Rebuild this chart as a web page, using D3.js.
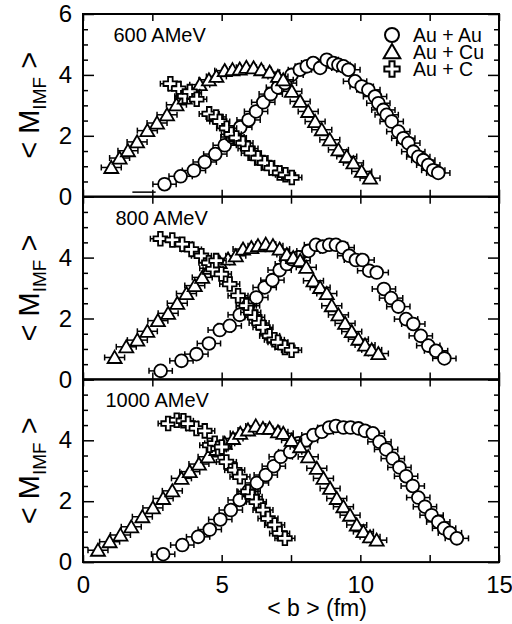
<!DOCTYPE html>
<html>
<head>
<meta charset="utf-8">
<script src="https://cdn.jsdelivr.net/npm/d3@7"></script>
<style>
  body { margin: 0; background: #fff; }
  svg text { font-family: "Liberation Sans", Arial, Helvetica, sans-serif; }
</style>
</head>
<body>
<div id="viz"></div>
<script>
// panel titles and legend
const panelLabels = ["600 AMeV", "800 AMeV", "1000 AMeV"];
const seriesNames = ["Au + Au", "Au + Cu", "Au + C"];
const xTickLabels = [0, 5, 10, 15];
const yTickLabels = [[0, 2, 4, 6], [0, 2, 4], [0, 2, 4]];

// data: [<b> fm, <M_IMF>]
const auAu600 = [[2.94,0.41],[3.52,0.67],[4.00,0.86],[4.39,1.14],[4.77,1.40],[5.11,1.69],[5.39,1.96],
  [5.67,2.28],[5.97,2.52],[6.24,2.80],[6.50,3.10],[6.77,3.37],[7.03,3.59],[7.28,3.73],[7.52,4.00],
  [7.82,4.17],[8.07,4.28],[8.30,4.39],[8.55,4.23],[8.79,4.50],[9.03,4.39],[9.21,4.33],[9.39,4.28],
  [9.57,4.17],[9.81,3.79],[10.05,3.62],[10.29,3.51],[10.53,3.29],[10.65,3.07],[10.83,2.85],[10.95,2.69],
  [11.13,2.47],[11.37,2.14],[11.55,1.92],[11.73,1.76],[11.91,1.48],[12.09,1.31],[12.27,1.20],[12.45,1.04],
  [12.63,0.87],[12.81,0.78]];
const auCu600 = [[1.02,0.96],[1.32,1.27],[1.62,1.51],[1.95,1.80],[2.32,2.17],[2.67,2.42],[3.03,2.69],
  [3.37,3.02],[3.67,3.24],[3.91,3.41],[4.21,3.68],[4.54,3.84],[4.81,3.95],[5.11,4.14],[5.39,4.17],
  [5.65,4.19],[5.89,4.25],[6.15,4.23],[6.43,4.17],[6.73,4.09],[7.03,3.95],[7.22,3.84],[7.53,3.46],
  [7.83,3.13],[8.12,2.80],[8.37,2.47],[8.61,2.20],[8.90,1.87],[9.21,1.54],[9.51,1.32],[9.75,1.11],
  [10.05,0.83],[10.35,0.61]];
const auC600 = [[3.15,3.71],[3.45,3.55],[3.67,3.30],[3.85,3.45],[4.10,3.20],[4.55,2.72],[4.80,2.62],
  [4.93,2.47],[5.18,2.25],[5.35,2.05],[5.53,1.93],[5.77,1.76],[5.95,1.58],[6.07,1.43],[6.31,1.27],
  [6.55,1.11],[6.79,0.94],[7.09,0.78],[7.30,0.72],[7.53,0.63]];
const auAu600Bar = [[2.2,0.15]]; // lone error bar, no marker

const auAu800 = [[2.80,0.28],[3.55,0.61],[4.09,0.83],[4.54,1.18],[4.93,1.62],[5.29,1.76],[5.65,2.12],
  [5.95,2.42],[6.25,2.69],[6.55,3.02],[6.83,3.26],[7.09,3.59],[7.35,3.79],[7.52,3.95],[7.77,4.01],
  [8.13,4.22],[8.40,4.42],[8.64,4.36],[8.88,4.42],[9.12,4.42],[9.36,4.33],[9.60,4.06],[9.84,3.92],
  [10.08,3.92],[10.32,3.57],[10.59,3.51],[10.85,2.97],[11.11,2.67],[11.37,2.39],[11.65,1.98],[11.91,1.82],
  [12.18,1.43],[12.45,1.11],[12.73,0.94],[13.03,0.69]];
const auCu800 = [[1.14,0.72],[1.56,1.07],[1.96,1.29],[2.32,1.58],[2.70,1.93],[3.07,2.17],[3.40,2.50],
  [3.73,2.82],[4.03,3.08],[4.30,3.35],[4.57,3.65],[4.93,3.84],[5.23,3.95],[5.51,4.06],[5.77,4.28],
  [6.07,4.33],[6.31,4.39],[6.59,4.44],[6.85,4.39],[7.09,4.28],[7.35,4.10],[7.58,4.00],[7.83,3.90],
  [8.05,3.68],[8.31,3.24],[8.55,3.02],[8.79,2.82],[8.97,2.42],[9.21,2.12],[9.45,1.84],[9.69,1.57],
  [9.93,1.32],[10.17,1.13],[10.41,0.97],[10.65,0.85]];
const auC800 = [[2.79,4.62],[3.22,4.58],[3.58,4.44],[3.91,4.27],[4.27,4.06],[4.54,3.83],[4.69,3.62],
  [4.80,3.90],[4.99,3.46],[5.29,3.13],[5.59,2.75],[5.89,2.42],[6.05,2.20],[6.19,2.04],[6.35,1.85],
  [6.49,1.71],[6.73,1.43],[6.90,1.30],[7.03,1.22],[7.28,1.05],[7.52,0.96]];

const auAu1000 = [[2.89,0.26],[3.58,0.56],[4.15,0.83],[4.57,1.07],[4.95,1.40],[5.33,1.71],[5.65,2.04],
  [5.97,2.33],[6.27,2.60],[6.59,2.86],[6.88,3.15],[7.13,3.46],[7.47,3.62],[7.77,3.90],[8.04,4.00],
  [8.31,4.17],[8.61,4.28],[8.88,4.42],[9.12,4.47],[9.39,4.42],[9.65,4.42],[9.93,4.39],[10.17,4.31],
  [10.45,4.23],[10.69,3.95],[10.93,3.70],[11.17,3.40],[11.41,3.11],[11.65,2.82],[11.89,2.50],[12.09,2.12],
  [12.33,1.82],[12.57,1.54],[12.81,1.32],[13.02,1.11],[13.23,0.96],[13.48,0.78]];
const auCu1000 = [[0.54,0.39],[0.96,0.67],[1.35,0.89],[1.74,1.16],[2.14,1.49],[2.52,1.78],[2.89,2.09],
  [3.22,2.34],[3.55,2.75],[3.85,2.97],[4.18,3.22],[4.51,3.46],[4.81,3.70],[5.11,3.90],[5.41,4.06],
  [5.67,4.23],[5.95,4.34],[6.23,4.47],[6.49,4.39],[6.73,4.39],[7.03,4.28],[7.22,4.23],[7.52,4.00],
  [7.83,3.79],[8.12,3.46],[8.43,3.08],[8.67,2.75],[8.91,2.42],[9.15,2.09],[9.39,1.82],[9.63,1.54],
  [9.87,1.22],[10.11,1.00],[10.35,0.83],[10.59,0.72]];
const auC1000 = [[3.07,4.55],[3.38,4.66],[3.62,4.64],[3.79,4.55],[4.09,4.39],[4.39,4.31],[4.57,3.84],
  [4.75,3.90],[4.87,3.73],[5.00,3.78],[5.17,3.29],[5.47,3.02],[5.66,2.80],[5.95,2.31],[6.10,2.15],
  [6.25,1.98],[6.49,1.71],[6.67,1.43],[6.91,1.22],[7.09,0.94],[7.28,0.78]];

// horizontal error half-widths (fm) per series
const errAuAu = 0.42, errAuCu = 0.36, errAuC = 0.36;

const panels = [
  {label: panelLabels[0], series: [auAu600, auCu600, auC600], bars: auAu600Bar},
  {label: panelLabels[1], series: [auAu800, auCu800, auC800], bars: []},
  {label: panelLabels[2], series: [auAu1000, auCu1000, auC1000], bars: []}
];
const errs = [errAuAu, errAuCu, errAuC];

var W = 512, H = 624;
var left = 83, right = 499, top0 = 14, panelH = 182.7;

var svg = d3.select("#viz").append("svg")
  .attr("width", W).attr("height", H);

var x = d3.scaleLinear().domain([0, 15]).range([left, right]);

var circleSym = d3.symbol().type(d3.symbolCircle).size(Math.PI * 6.4 * 6.4);
var triSym = d3.symbol().type(d3.symbolTriangle).size(85);
var crossSym = d3.symbol().type(d3.symbolCross).size(105);
var syms = [circleSym, triSym, crossSym];

panels.forEach(function(p, i) {
  var pt = top0 + i * panelH;
  var y = d3.scaleLinear().domain([0, 6]).range([pt + panelH, pt]);
  var g = svg.append("g");

  // ticks, all pointing inward
  var minorY = d3.range(0, 6.01, 0.5).filter(v => v % 2 !== 0);
  var majorY = [0, 2, 4, 6];
  var xt = d3.range(0, 15.01, 2.5);
  function tickAxis(axis, tr) {
    var a = g.append("g").attr("transform", tr).call(axis);
    a.select(".domain").remove();
    a.selectAll("line").attr("stroke-width", 1.5);
  }
  tickAxis(d3.axisLeft(y).tickValues(minorY).tickSize(-5).tickFormat(""), "translate(" + left + ",0)");
  tickAxis(d3.axisLeft(y).tickValues(majorY).tickSize(-11).tickFormat(""), "translate(" + left + ",0)");
  tickAxis(d3.axisRight(y).tickValues(minorY).tickSize(-5).tickFormat(""), "translate(" + right + ",0)");
  tickAxis(d3.axisRight(y).tickValues(majorY).tickSize(-11).tickFormat(""), "translate(" + right + ",0)");
  tickAxis(d3.axisBottom(x).tickValues(xt).tickSize(-7).tickFormat(""), "translate(0," + (pt + panelH) + ")");
  tickAxis(d3.axisTop(x).tickValues(xt).tickSize(-7).tickFormat(""), "translate(0," + pt + ")");

  // y tick labels
  var yl = g.append("g").attr("transform", "translate(" + left + ",0)")
    .call(d3.axisLeft(y).tickValues(yTickLabels[i]).tickSize(0).tickPadding(11).tickFormat(d3.format("d")));
  yl.select(".domain").remove();
  yl.selectAll("text").attr("font-size", 24).attr("font-family", "Liberation Sans, Arial, sans-serif").attr("fill", "#000");

  // y title
  var yt = g.append("text")
    .attr("transform", "translate(39," + (pt + panelH / 2) + ") rotate(-90)")
    .attr("text-anchor", "middle").attr("font-size", 29);
  yt.append("tspan").text("< M");
  yt.append("tspan").text("IMF").attr("font-size", 19).attr("dy", 7);
  yt.append("tspan").text(" >").attr("dy", -7);

  // panel label
  g.append("text").attr("x", x(1.1) - (i === 2 ? 8 : 0) + (i === 1 ? 2 : 0))
    .attr("y", pt + 28).attr("font-size", 20).text(p.label);

  // lone bars
  p.bars.forEach(function(d) {
    g.append("line").attr("x1", x(d[0] - errAuAu)).attr("x2", x(d[0] + errAuAu))
      .attr("y1", y(d[1])).attr("y2", y(d[1])).attr("stroke", "#000").attr("stroke-width", 1.5);
  });

  // series: error bars then markers
  p.series.forEach(function(data, s) {
    var e = errs[s];
    var eb = g.append("g").attr("stroke", "#000").attr("stroke-width", 1.5);
    data.forEach(function(d) {
      var yy = y(d[1]);
      eb.append("line").attr("x1", x(d[0] - e)).attr("x2", x(d[0] + e)).attr("y1", yy).attr("y2", yy);
      eb.append("line").attr("x1", x(d[0] - e)).attr("x2", x(d[0] - e)).attr("y1", yy - 3).attr("y2", yy + 3);
      eb.append("line").attr("x1", x(d[0] + e)).attr("x2", x(d[0] + e)).attr("y1", yy - 3).attr("y2", yy + 3);
    });
    g.append("g").selectAll("path").data(data).join("path")
      .attr("d", syms[s])
      .attr("transform", d => "translate(" + x(d[0]) + "," + (y(d[1]) + (s === 1 ? 1.5 : 0)) + ")")
      .attr("fill", "#fff").attr("stroke", "#000").attr("stroke-width", 1.8);
  });

  // frame
  g.append("rect").attr("x", left).attr("y", pt).attr("width", right - left).attr("height", panelH)
    .attr("fill", "none").attr("stroke", "#000").attr("stroke-width", 2);
});

// x tick labels under bottom panel
var bottom = top0 + 3 * panelH;
var xa = svg.append("g").attr("transform", "translate(0," + bottom + ")")
  .call(d3.axisBottom(x).tickValues(xTickLabels).tickSize(0).tickPadding(14).tickFormat(d3.format("d")));
xa.select(".domain").remove();
xa.selectAll("text").attr("font-size", 24).attr("font-family", "Liberation Sans, Arial, sans-serif").attr("fill", "#000");

svg.append("text").attr("x", 317).attr("y", 616).attr("text-anchor", "middle")
  .attr("font-size", 23).text("< b > (fm)");

// legend
var leg = svg.append("g");
seriesNames.forEach(function(name, s) {
  var ly = 35 + s * 17;
  leg.append("path").attr("d", d3.symbol().type([d3.symbolCircle, d3.symbolTriangle, d3.symbolCross][s])
      .size([Math.PI * 49, 120, 130][s]))
    .attr("transform", "translate(392," + (ly + (s === 1 ? 1.5 : 0)) + ")")
    .attr("fill", "#fff").attr("stroke", "#000").attr("stroke-width", 2);
  leg.append("text").attr("x", 413).attr("y", ly + 7).attr("font-size", 19.5).text(name);
});
</script>
</body>
</html>
